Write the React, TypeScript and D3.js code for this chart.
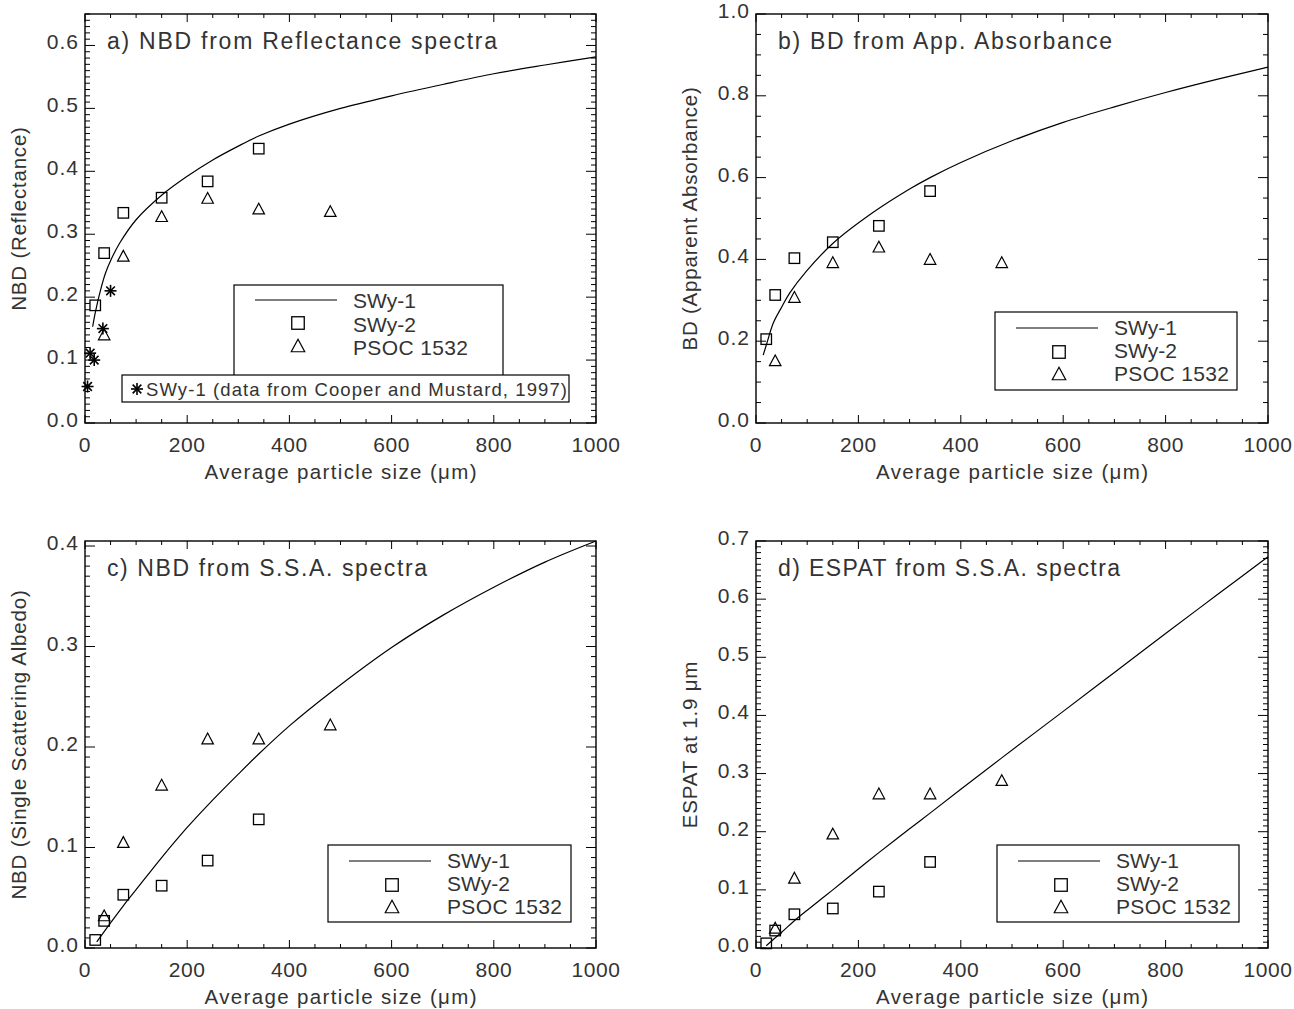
import React from 'react';
import * as d3 from 'd3';

// ---------- data ----------
const particleSize = [20, 37.5, 75, 150, 240, 340, 480];
const swy2Size = particleSize.slice(0, 6);
const psocSize = particleSize.slice(1);

// panel a: NBD from reflectance
const swy2A = [0.187, 0.27, 0.334, 0.358, 0.384, 0.436];
const psocA = [0.14, 0.265, 0.328, 0.357, 0.34, 0.336];
const cooperSize = [5, 10, 18, 35, 50];
const cooperA = [0.058, 0.111, 0.1, 0.15, 0.21];
const curveAX = [15, 20, 30, 40, 50, 68, 100, 150, 200, 250, 300, 340, 400, 500, 600, 700, 800, 900, 1000];
const curveAY = [0.153, 0.175, 0.21, 0.238, 0.258, 0.286, 0.323, 0.362, 0.392, 0.418, 0.44, 0.456, 0.475, 0.5, 0.52, 0.538, 0.555, 0.569, 0.582];

// panel b: BD from apparent absorbance
const swy2B = [0.205, 0.313, 0.403, 0.442, 0.482, 0.567];
const psocB = [0.152, 0.307, 0.392, 0.43, 0.4, 0.392];
const curveBX = [14, 20, 34, 50, 66, 99, 151, 229, 300, 340, 400, 500, 600, 700, 800, 900, 1000];
const curveBY = [0.166, 0.19, 0.245, 0.283, 0.318, 0.372, 0.44, 0.515, 0.572, 0.6, 0.637, 0.69, 0.735, 0.773, 0.808, 0.84, 0.87];

// panel c: NBD from SSA
const swy2C = [0.008, 0.027, 0.053, 0.062, 0.087, 0.128];
const psocC = [0.032, 0.105, 0.162, 0.208, 0.208, 0.222];
const curveCX = [23, 50, 75, 100, 150, 200, 240, 300, 340, 400, 480, 600, 700, 800, 900, 1000];
const curveCY = [0.006, 0.025, 0.042, 0.058, 0.09, 0.12, 0.142, 0.173, 0.193, 0.221, 0.254, 0.299, 0.331, 0.359, 0.384, 0.405];

// panel d: ESPAT at 1.9 um
const swy2D = [0.008, 0.03, 0.058, 0.068, 0.097, 0.148];
const psocD = [0.034, 0.12, 0.196, 0.265, 0.265, 0.288];
const curveDX = [20, 50, 75, 100, 150, 200, 240, 300, 340, 400, 480, 600, 700, 800, 900, 1000];
const curveDY = [0.004, 0.027, 0.047, 0.065, 0.1, 0.136, 0.164, 0.205, 0.232, 0.273, 0.327, 0.407, 0.474, 0.541, 0.607, 0.673];

const xTickValues = [0, 200, 400, 600, 800, 1000];
const legendLabels = ['SWy-1', 'SWy-2', 'PSOC 1532'];
const cooperLabel = 'SWy-1 (data from Cooper and Mustard, 1997)';
const xTitle = 'Average particle size (\u03bcm)';

const FONT = '"Liberation Sans", Arial, sans-serif';
const INK = '#333';

type PanelCfg = {
  key: string;
  title: string;
  titleLen: number;
  yTitle: string;
  left: number; right: number; top: number; bottom: number;
  yMax: number; yMajor: number; yMinor: number;
  swy2: number[]; psoc: number[];
  cx: number[]; cy: number[];
  legend: { x: number; y: number; w: number; h: number };
  cooper?: boolean;
};

const panels: PanelCfg[] = [
  {
    key: 'a', title: 'a) NBD from Reflectance spectra', titleLen: 390, yTitle: 'NBD (Reflectance)',
    left: 85, right: 596, top: 14, bottom: 423, yMax: 0.65, yMajor: 0.1, yMinor: 0.01,
    swy2: swy2A, psoc: psocA, cx: curveAX, cy: curveAY,
    legend: { x: 234, y: 285, w: 269, h: 101 }, cooper: true,
  },
  {
    key: 'b', title: 'b) BD from App. Absorbance', titleLen: 334, yTitle: 'BD (Apparent Absorbance)',
    left: 756, right: 1268, top: 14, bottom: 423, yMax: 1.0, yMajor: 0.2, yMinor: 0.05,
    swy2: swy2B, psoc: psocB, cx: curveBX, cy: curveBY,
    legend: { x: 995, y: 312, w: 242, h: 78 },
  },
  {
    key: 'c', title: 'c) NBD from S.S.A. spectra', titleLen: 320, yTitle: 'NBD (Single Scattering Albedo)',
    left: 85, right: 596, top: 541, bottom: 948, yMax: 0.405, yMajor: 0.1, yMinor: 0.01,
    swy2: swy2C, psoc: psocC, cx: curveCX, cy: curveCY,
    legend: { x: 328, y: 845, w: 243, h: 77 },
  },
  {
    key: 'd', title: 'd) ESPAT from S.S.A. spectra', titleLen: 342, yTitle: 'ESPAT at 1.9 \u03bcm',
    left: 756, right: 1268, top: 541, bottom: 948, yMax: 0.7, yMajor: 0.1, yMinor: 0.01,
    swy2: swy2D, psoc: psocD, cx: curveDX, cy: curveDY,
    legend: { x: 997, y: 845, w: 242, h: 77 },
  },
];

const Square = ({ x, y, s = 10.5 }: { x: number; y: number; s?: number }) => (
  <rect x={x - s / 2} y={y - s / 2} width={s} height={s} fill="none" stroke="#000" strokeWidth={1.3} />
);
const Triangle = ({ x, y, s = 11.5 }: { x: number; y: number; s?: number }) => {
  const h = s * 0.85;
  return (
    <path d={`M${x},${y - h / 2 - 1}L${x - s / 2},${y + h / 2}L${x + s / 2},${y + h / 2}Z`} fill="none" stroke="#000" strokeWidth={1.2} />
  );
};
const Asterisk = ({ x, y, r = 6 }: { x: number; y: number; r?: number }) => {
  const d = r * 0.72;
  return (
    <g stroke="#000" strokeWidth={1.6}>
      <line x1={x} y1={y - r} x2={x} y2={y + r} />
      <line x1={x - r} y1={y} x2={x + r} y2={y} />
      <line x1={x - d} y1={y - d} x2={x + d} y2={y + d} />
      <line x1={x - d} y1={y + d} x2={x + d} y2={y - d} />
    </g>
  );
};

function Panel({ p }: { p: PanelCfg }) {
  const x = d3.scaleLinear().domain([0, 1000]).range([p.left, p.right]);
  const y = d3.scaleLinear().domain([0, p.yMax]).range([p.bottom, p.top]);
  const line = d3
    .line<number>()
    .x((_, i) => x(p.cx[i]))
    .y((v) => y(v))
    .curve(d3.curveCatmullRom.alpha(0.5));
  const xMinor = d3.range(0, 1000.001, 50);
  const yMinor = d3.range(0, p.yMax + 1e-9, p.yMinor);
  const yMajor = d3.range(0, p.yMax + 1e-9, p.yMajor);
  const isMajorX = (v: number) => Math.abs(v % 200) < 1e-6;
  const isMajorY = (v: number) => {
    const r = v / p.yMajor;
    return Math.abs(r - Math.round(r)) < 1e-6;
  };
  const fmtY = d3.format('.1f');
  const midX = (p.left + p.right) / 2;
  const midY = (p.top + p.bottom) / 2;
  const L = p.legend;
  const lgX = L.x + 21;
  const symX = L.x + 64;
  const txtX = L.x + 119;
  return (
    <g>
      {/* ticks */}
      <g stroke="#000" strokeWidth={1}>
        {xMinor.map((v) => {
          const len = isMajorX(v) ? 8 : 4;
          return (
            <g key={'xt' + v}>
              <line x1={x(v)} x2={x(v)} y1={p.bottom} y2={p.bottom - len} />
              <line x1={x(v)} x2={x(v)} y1={p.top} y2={p.top + len} />
            </g>
          );
        })}
        {yMinor.map((v) => {
          const len = isMajorY(v) ? 10 : 5;
          return (
            <g key={'yt' + v}>
              <line x1={p.left} x2={p.left + len} y1={y(v)} y2={y(v)} />
              <line x1={p.right} x2={p.right - len} y1={y(v)} y2={y(v)} />
            </g>
          );
        })}
      </g>
      <rect x={p.left} y={p.top} width={p.right - p.left} height={p.bottom - p.top} fill="none" stroke="#000" strokeWidth={1.4} />
      {/* tick labels */}
      <g fontFamily={FONT} fontSize={21} fill={INK}>
        {xTickValues.map((v) => (
          <text key={'xl' + v} x={x(v)} y={p.bottom + 29} textAnchor="middle" letterSpacing={0.6}>
            {String(v)}
          </text>
        ))}
        {yMajor.map((v) => (
          <text key={'yl' + v} x={p.left - 6} y={y(v) + 4} textAnchor="end" letterSpacing={1}>
            {fmtY(v)}
          </text>
        ))}
      </g>
      {/* axis titles */}
      <text x={midX} y={p.bottom + 56} textAnchor="middle" fontFamily={FONT} fontSize={20.5} fill={INK} textLength={272} lengthAdjust="spacing">
        {xTitle}
      </text>
      <text transform={`translate(${p.left - 59},${midY}) rotate(-90)`} textAnchor="middle" fontFamily={FONT} fontSize={20.5} fill={INK} letterSpacing={0.8}>
        {p.yTitle}
      </text>
      {/* panel title */}
      <text x={p.left + 22} y={p.top + 35} fontFamily={FONT} fontSize={23} fill={INK} textLength={p.titleLen} lengthAdjust="spacing">
        {p.title}
      </text>
      {/* model curve */}
      <path d={line(p.cy) || ''} fill="none" stroke="#000" strokeWidth={1.2} />
      {/* data */}
      {p.swy2.map((v, i) => (
        <Square key={'s' + i} x={x(swy2Size[i])} y={y(v)} />
      ))}
      {p.psoc.map((v, i) => (
        <Triangle key={'t' + i} x={x(psocSize[i])} y={y(v)} />
      ))}
      {p.cooper &&
        cooperA.map((v, i) => <Asterisk key={'c' + i} x={x(cooperSize[i])} y={y(v)} />)}
      {/* legend */}
      <rect x={L.x} y={L.y} width={L.w} height={L.h} fill="#fff" stroke="#000" strokeWidth={1.2} />
      <line x1={lgX} x2={lgX + 82} y1={L.y + (p.cooper ? 15 : 16)} y2={L.y + (p.cooper ? 15 : 16)} stroke="#000" strokeWidth={1.2} />
      <Square x={symX} y={L.y + (p.cooper ? 38 : 40)} s={12.5} />
      <Triangle x={symX} y={L.y + (p.cooper ? 61 : 62)} s={13.5} />
      <g fontFamily={FONT} fontSize={21} fill={INK}>
        {legendLabels.map((t, i) => (
          <text key={t} x={txtX} y={L.y + (p.cooper ? 23 + i * 23.5 : 23 + i * 23)} textLength={t.length === 5 ? 63 : 115} lengthAdjust="spacing">
            {t}
          </text>
        ))}
      </g>
      {p.cooper && (
        <g>
          <rect x={122} y={375} width={447} height={27} fill="#fff" stroke="#000" strokeWidth={1.2} />
          <Asterisk x={137} y={389} />
          <text x={146} y={396} fontFamily={FONT} fontSize={18.5} fill={INK} textLength={421} lengthAdjust="spacing">
            {cooperLabel}
          </text>
        </g>
      )}
    </g>
  );
}

export default function App() {
  return (
    <svg width={1294} height={1009} style={{ display: 'block', position: 'absolute', left: 0, top: 0, background: '#fff' }}>
      <rect x={0} y={0} width={1294} height={1009} fill="#fff" />
      {panels.map((p) => (
        <Panel key={p.key} p={p} />
      ))}
    </svg>
  );
}
